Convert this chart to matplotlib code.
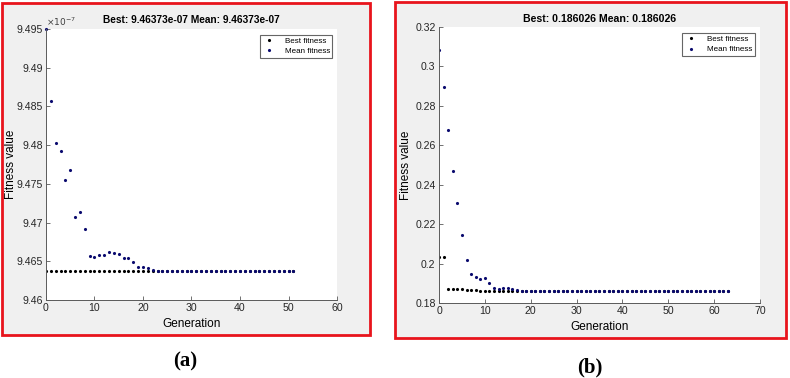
import numpy as np
import matplotlib
matplotlib.use("Agg")
import matplotlib.pyplot as plt
from matplotlib.patches import Rectangle
from matplotlib.ticker import FuncFormatter, MultipleLocator

plt.rcParams['font.family'] = ['Liberation Sans', 'DejaVu Sans']

# ---- panel (a) data ----
gen_a = np.arange(0, 52)
best_a = [9.46373e-7] * 52
mean_a_head = [9.4950, 9.4857, 9.4803, 9.4792, 9.4755, 9.4768, 9.4707, 9.4714,
               9.4692, 9.4657, 9.4656, 9.4658, 9.4658, 9.4662, 9.4661, 9.4660,
               9.4654, 9.4654, 9.4649, 9.4642, 9.4642, 9.4641, 9.4639]
mean_a = [v * 1e-7 for v in mean_a_head] + [9.46373e-7] * (52 - len(mean_a_head))
yticks_a = [9.46e-7, 9.465e-7, 9.47e-7, 9.475e-7, 9.48e-7, 9.485e-7, 9.49e-7, 9.495e-7]

# ---- panel (b) data ----
gen_b = np.arange(0, 64)
best_b_head = [0.2031, 0.2031, 0.1871, 0.1871, 0.1871, 0.1870, 0.1865, 0.1864,
               0.1864, 0.1863, 0.1863, 0.1863, 0.1862, 0.1862, 0.1862, 0.1862,
               0.1861, 0.1861, 0.1861, 0.1861, 0.1861]
best_b = best_b_head + [0.186026] * (64 - len(best_b_head))
mean_b_head = [0.3085, 0.2894, 0.2680, 0.2469, 0.2307, 0.2145, 0.2020, 0.1949,
               0.1932, 0.1923, 0.1928, 0.1901, 0.1874, 0.1873, 0.1875, 0.1875,
               0.1871, 0.1864, 0.1863, 0.1862, 0.1862, 0.1861]
mean_b = mean_b_head + [0.186026] * (64 - len(mean_b_head))
yticks_b = [0.18, 0.2, 0.22, 0.24, 0.26, 0.28, 0.3, 0.32]

fig = plt.figure(figsize=(7.9, 3.78), dpi=100)

# gray panels with red frames (behind the axes)
fig.patches.append(Rectangle((0.0025, 0.114), 0.466, 0.878, transform=fig.transFigure,
                             facecolor='#f0f0f0', edgecolor='#e8141c', linewidth=2,
                             zorder=-10))
fig.patches.append(Rectangle((0.5, 0.106), 0.495, 0.889, transform=fig.transFigure,
                             facecolor='#f0f0f0', edgecolor='#e8141c', linewidth=2,
                             zorder=-10))


def style_axes(ax):
    ax.set_facecolor('white')
    for s in ['top', 'right']:
        ax.spines[s].set_visible(False)
    for s in ['left', 'bottom']:
        ax.spines[s].set_color('#5a5a5a')
        ax.spines[s].set_linewidth(0.7)
    ax.tick_params(direction='in', length=3, width=0.6, color='#5a5a5a',
                   labelsize=7.6, labelcolor='#262626', pad=2.5)


def gfmt(v, pos):
    return '%g' % round(v, 6)


def add_legend(ax):
    leg = ax.legend(loc='upper right', bbox_to_anchor=(0.99, 0.985), fontsize=5.8,
                    frameon=True, fancybox=False, edgecolor='#404040',
                    handletextpad=1.2, handlelength=1.6, borderpad=0.3,
                    labelspacing=0.35, borderaxespad=0.2)
    leg.get_frame().set_linewidth(0.8)


# ---- (a) ----
ax1 = fig.add_axes([0.0582, 0.2063, 0.3684, 0.717])
ax1.plot(gen_a, best_a, '.', color='#000000', ms=2.5, label='Best fitness')
ax1.plot(gen_a, mean_a, '.', color='#0a0a6e', ms=2.5, label='Mean fitness', clip_on=False)
ax1.set_xlim(0, 60)
ax1.set_ylim(9.46e-7, 9.495e-7)
ax1.set_yticks(yticks_a)
ax1.yaxis.set_major_formatter(FuncFormatter(lambda v, p: '%g' % round(v * 1e7, 4)))
ax1.set_xticks(np.arange(0, 61, 10))
style_axes(ax1)
ax1.text(0.0, 1.005, r'$\times10^{-7}$', transform=ax1.transAxes, fontsize=6.5,
         color='#404040', va='bottom', ha='left')
ax1.set_title('Best: 9.46373e-07 Mean: 9.46373e-07', fontsize=7.3, fontweight='bold', pad=4)
ax1.set_xlabel('Generation', fontsize=8.5, labelpad=3)
ax1.set_ylabel('Fitness value', fontsize=8.5)
ax1.yaxis.set_label_coords(-0.1, 0.5)
add_legend(ax1)

# ---- (b) ----
ax2 = fig.add_axes([0.5557, 0.1984, 0.4063, 0.730])
ax2.plot(gen_b, best_b, '.', color='#000000', ms=2.5, label='Best fitness')
ax2.plot(gen_b, mean_b, '.', color='#0a0a6e', ms=2.5, label='Mean fitness')
ax2.set_xlim(0, 70)
ax2.set_ylim(0.18, 0.32)
ax2.set_yticks(yticks_b)
ax2.yaxis.set_major_formatter(FuncFormatter(gfmt))
ax2.set_xticks(np.arange(0, 71, 10))
style_axes(ax2)
ax2.set_title('Best: 0.186026 Mean: 0.186026', fontsize=7.6, fontweight='bold', pad=4)
ax2.set_xlabel('Generation', fontsize=8.5, labelpad=3)
ax2.set_ylabel('Fitness value', fontsize=8.5)
ax2.yaxis.set_label_coords(-0.085, 0.5)
add_legend(ax2)

# panel letters
fig.text(185 / 790, 1 - 361 / 378, '(a)', fontsize=15, fontweight='bold',
         family='Liberation Serif', ha='center', va='center')
fig.text(590 / 790, 1 - 367 / 378, '(b)', fontsize=15, fontweight='bold',
         family='Liberation Serif', ha='center', va='center')

fig.savefig('out.png', dpi=100)
